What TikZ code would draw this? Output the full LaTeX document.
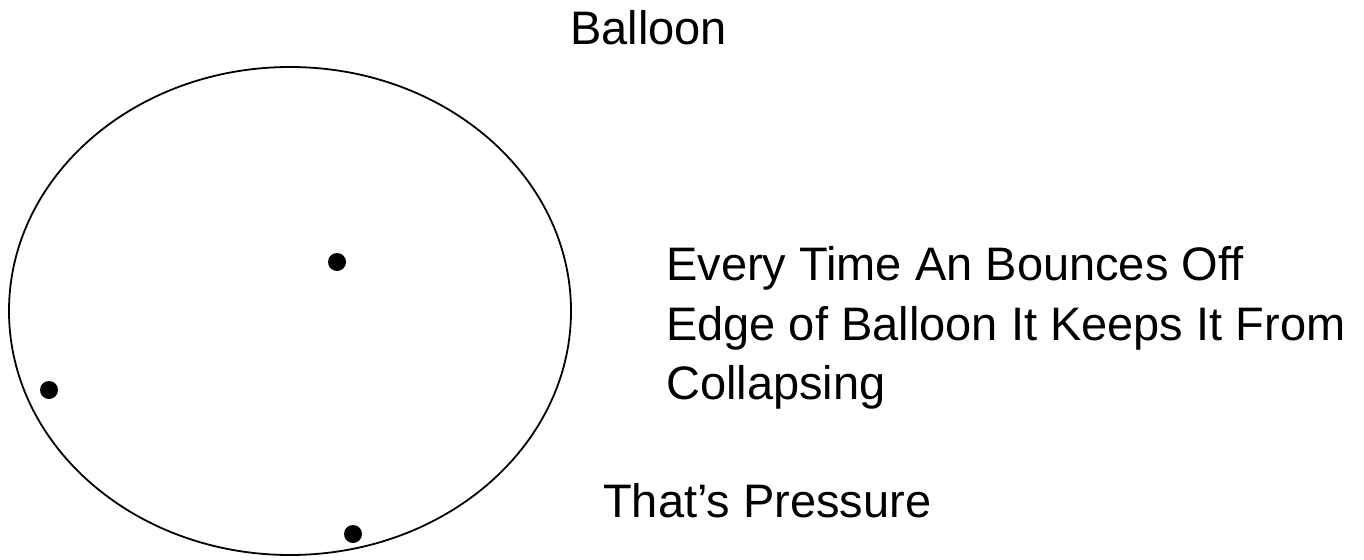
\documentclass[tikz,border=0pt]{standalone}
\usepackage{fontspec}
\setmainfont{Liberation Sans}
\usetikzlibrary{positioning}

\begin{document}
\begin{tikzpicture}[x=1pt,y=-1pt,
    words/.style={anchor=base west, inner sep=0pt, font=\fontsize{47}{56}\selectfont},
    molecule/.style={circle, fill=black, inner sep=0pt, minimum size=18pt}]
    \useasboundingbox (0,0) rectangle (1364,559);
    % Balloon
    \draw[line width=1.8pt] (290,311) ellipse [x radius=281pt, y radius=244pt];
    \node[words] (balloon) at (570,45) {Balloon};
    % Molecules
    \node[molecule] (m1) at (337,262) {};
    \node[molecule] (m2) at (49,390) {};
    \node[molecule] (m3) at (353,534) {};
    % Text
    \node[words] (every) at (666,280) {Every Time An Bounces Off};
    \node[words] (edge) at (666,340) {Edge of Balloon It Keeps It From};
    \node[words] (collapse) at (666,399) {Collapsing};
    \node[words] (pressure) at (603,517) {That’s Pressure};
\end{tikzpicture}
\end{document}
